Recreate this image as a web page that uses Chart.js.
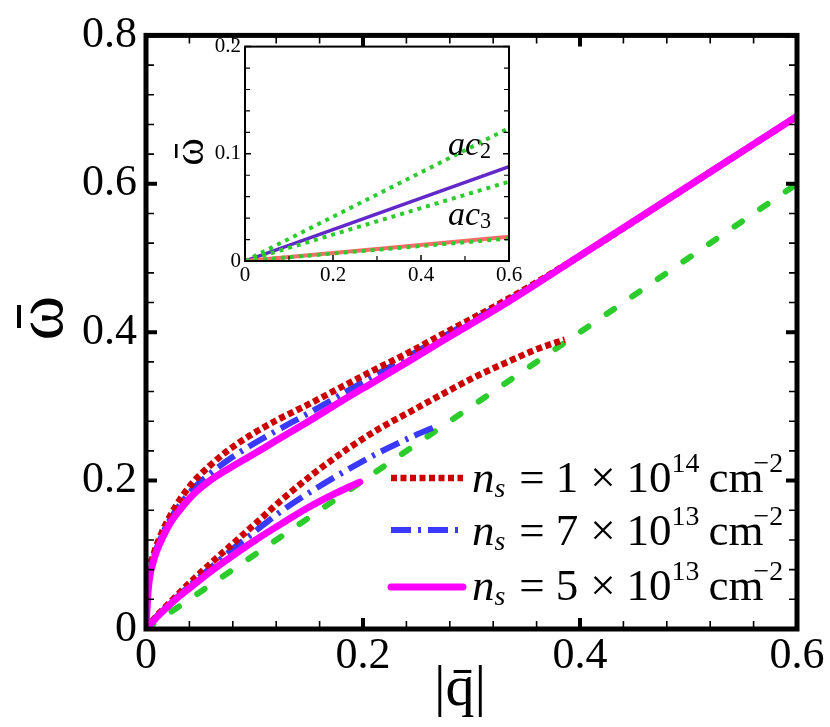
<!DOCTYPE html>
<html><head><meta charset="utf-8">
<script src="https://cdn.jsdelivr.net/npm/chart.js@4.4.0/dist/chart.umd.min.js"></script>
<style>
html,body{margin:0;padding:0;background:#fff;}
#wrap{position:relative;width:830px;height:727px;overflow:hidden;}
#main{position:absolute;left:0;top:0;}
#inset{position:absolute;left:160px;top:30px;}
</style></head><body>
<div id="wrap"><canvas id="main" width="830" height="727"></canvas><canvas id="inset" width="365" height="260"></canvas></div>
<script>
// ---------- data ----------
const xTicks = [0, 0.2, 0.4, 0.6];
const yTicks = [0, 0.2, 0.4, 0.6, 0.8];
const insetXTicks = [0, 0.2, 0.4, 0.6];
const insetYTicks = [0, 0.1, 0.2];

const qGreen = [0, 0.6];
const wGreen = [0, 0.6];

const qUp = [0, 0.002, 0.007, 0.014, 0.022, 0.032, 0.044, 0.058, 0.075, 0.095, 0.12, 0.15, 0.18, 0.21, 0.24, 0.274, 0.335, 0.4, 0.5, 0.6];
const wRedUp  = [0, 0.065, 0.100, 0.128, 0.152, 0.176, 0.199, 0.219, 0.240, 0.260, 0.281, 0.303, 0.326, 0.349, 0.371, 0.398, 0.446, 0.503, 0.597, 0.691];
const wBlueUp = [0, 0.058, 0.096, 0.124, 0.147, 0.169, 0.190, 0.208, 0.227, 0.246, 0.267, 0.291, 0.316, 0.341, 0.366, 0.394, 0.444, 0.503, 0.597, 0.691];
const wMagUp  = [0, 0.052, 0.092, 0.119, 0.142, 0.162, 0.182, 0.199, 0.215, 0.232, 0.254, 0.280, 0.307, 0.333, 0.359, 0.389, 0.442, 0.503, 0.597, 0.691];

const qRedLo = [0, 0.01, 0.025, 0.04, 0.06, 0.08, 0.1, 0.125, 0.155, 0.185, 0.215, 0.245, 0.275, 0.305, 0.335, 0.36, 0.386];
const wRedLo = [0, 0.018, 0.040, 0.062, 0.089, 0.115, 0.141, 0.174, 0.210, 0.242, 0.270, 0.294, 0.318, 0.341, 0.361, 0.377, 0.390];
const qBlueLo = [0, 0.01, 0.025, 0.04, 0.06, 0.08, 0.1, 0.125, 0.155, 0.185, 0.215, 0.245, 0.269];
const wBlueLo = [0, 0.017, 0.038, 0.058, 0.083, 0.108, 0.131, 0.159, 0.188, 0.214, 0.238, 0.259, 0.274];
const qMagLo = [0, 0.01, 0.025, 0.04, 0.06, 0.08, 0.1, 0.125, 0.15, 0.175, 0.197];
const wMagLo = [0, 0.016, 0.037, 0.055, 0.078, 0.099, 0.119, 0.142, 0.164, 0.183, 0.198];

// inset (ac2 / ac3 branches)
const qInset = [0, 0.6];
const wAc2Up = [0, 0.124];
const wAc2 = [0, 0.088];
const wAc2Lo = [0, 0.074];
const wAc3 = [0, 0.0226];
const wAc3G = [0, 0.021];

const legendMantissa = ['1', '7', '5'];
const legendExponent = ['14', '13', '13'];

// ---------- helpers ----------
const SERIF = '"Liberation Serif","Times New Roman",serif';
const pts = (qs, ws) => qs.map((q, i) => ({x: q, y: ws[i]}));

const RED = '#cc0000', BLUE = '#3a3aff', MAG = '#ff00ff', GREEN = '#2ccc2c';
const styles = {
  red:  {borderColor: RED, borderWidth: 6.5, borderDash: [6, 3.5], borderCapStyle: 'butt'},
  blue: {borderColor: BLUE, borderWidth: 6, borderDash: [20, 7, 3, 7], borderCapStyle: 'butt'},
  mag:  {borderColor: MAG, borderWidth: 7, borderDash: [], borderCapStyle: 'round'},
  green:{borderColor: GREEN, borderWidth: 6, borderDash: [9, 22], borderCapStyle: 'round'}
};
function ds(label, data, st, order) {
  return Object.assign({label, data, order, pointRadius: 0, fill: false,
    cubicInterpolationMode: 'monotone', showLine: true}, st);
}

function drawMath(ctx, x, y, parts, size, supScale) {
  const k = supScale || 0.65;
  for (const p of parts) {
    const s = (p.sub || p.sup) ? size * k : size;
    ctx.font = (p.it ? 'italic ' : '') + s + 'px ' + SERIF;
    const dy = p.sub ? size * 0.1 : p.sup ? -size * 0.44 : 0;
    ctx.fillText(p.t, x, y + dy);
    x += ctx.measureText(p.t).width + (p.gap || 0);
  }
  return x;
}

function frameTicks(cfg) {
  return {
    id: 'frameTicks',
    afterDatasetsDraw(chart) {
      const {ctx, chartArea: a, scales: {x, y}} = chart;
      ctx.save();
      ctx.strokeStyle = '#000';
      ctx.lineCap = 'butt';
      const nx = Math.round((x.max - x.min) / cfg.xStep);
      for (let i = 0; i <= nx; i++) {
        const px = x.getPixelForValue(x.min + i * cfg.xStep);
        const major = i % cfg.xMajor === 0;
        const L = major ? cfg.majLen : cfg.minLen;
        ctx.lineWidth = major ? cfg.majW : cfg.minW;
        ctx.beginPath();
        ctx.moveTo(px, a.bottom); ctx.lineTo(px, a.bottom - L);
        if (cfg.top) { ctx.moveTo(px, a.top); ctx.lineTo(px, a.top + L); }
        ctx.stroke();
      }
      const ny = Math.round((y.max - y.min) / cfg.yStep);
      for (let i = 0; i <= ny; i++) {
        const py = y.getPixelForValue(y.min + i * cfg.yStep);
        const major = i % cfg.yMajor === 0;
        const L = major ? cfg.majLen : cfg.minLen;
        ctx.lineWidth = major ? cfg.majW : cfg.minW;
        ctx.beginPath();
        ctx.moveTo(a.left, py); ctx.lineTo(a.left + L, py);
        ctx.moveTo(a.right, py); ctx.lineTo(a.right - L, py);
        ctx.stroke();
      }
      ctx.lineWidth = cfg.frame;
      ctx.strokeRect(a.left, a.top, a.right - a.left, a.bottom - a.top);
      ctx.restore();
    }
  };
}

const fmt = v => (Math.abs(v) < 1e-9 ? '0' : String(+v.toFixed(2)));

// rotated omega with macron (macron drawn as a bar on the "top" side)
function omegaTitle(ctx, bx, cy, size, mx, my, mw, mh) {
  ctx.save();
  ctx.translate(bx, cy);
  ctx.rotate(-Math.PI / 2);
  ctx.font = size + 'px ' + SERIF;
  ctx.textAlign = 'center';
  ctx.textBaseline = 'alphabetic';
  ctx.fillText('ω', 0, 0);
  ctx.restore();
  ctx.fillRect(mx, my, mw, mh);
}

// ---------- main chart ----------
const mainDatasets = [
  ds('ns5 up', pts(qUp, wMagUp), styles.mag, 0),
  ds('ns5 lo', pts(qMagLo, wMagLo), styles.mag, 1),
  ds('ns1 up', pts(qUp, wRedUp), styles.red, 2),
  ds('ns1 lo', pts(qRedLo, wRedLo), styles.red, 3),
  ds('ns7 up', pts(qUp, wBlueUp), styles.blue, 4),
  ds('ns7 lo', pts(qBlueLo, wBlueLo), styles.blue, 5),
  ds('green', pts(qGreen, wGreen), styles.green, 6)
];

const mainDeco = {
  id: 'mainDeco',
  afterDraw(chart) {
    const ctx = chart.ctx;
    ctx.save();
    ctx.fillStyle = '#000';
    omegaTitle(ctx, 62, 318, 68, 17, 305, 4, 23);
    // x title
    ctx.font = '58px ' + SERIF;
    ctx.textAlign = 'center';
    ctx.textBaseline = 'alphabetic';
    ctx.fillText('|q\u0304|', 460, 705);
    // legend
    const rows = [
      {st: styles.red, ly: 478, by: 492},
      {st: styles.blue, ly: 530, by: 545},
      {st: styles.mag, ly: 587, by: 600}
    ];
    rows.forEach((r, i) => {
      ctx.save();
      ctx.strokeStyle = r.st.borderColor;
      ctx.lineWidth = r.st.borderWidth;
      ctx.setLineDash(r.st.borderDash);
      ctx.lineCap = r.st.borderCapStyle;
      ctx.beginPath();
      ctx.moveTo(391, r.ly); ctx.lineTo(463, r.ly);
      ctx.stroke();
      ctx.restore();
      ctx.textAlign = 'left';
      drawMath(ctx, 472, r.by, [
        {t: 'n', it: true},
        {t: 's', it: true, sub: true, gap: 14},
        {t: '=', gap: 11},
        {t: legendMantissa[i], gap: 12},
        {t: '\u00d7', gap: 11},
        {t: '10'},
        {t: legendExponent[i], sup: true, gap: 9},
        {t: 'cm', gap: -10},
        {t: '\u22122', sup: true}
      ], 45, 0.62);
    });
    ctx.restore();
  }
};

new Chart(document.getElementById('main'), {
  type: 'scatter',
  data: {datasets: mainDatasets},
  options: {
    responsive: false, animation: false, devicePixelRatio: 1,
    layout: {padding: {top: 34, right: 33, left: 0, bottom: 0}},
    plugins: {legend: {display: false}, tooltip: {enabled: false}},
    scales: {
      x: {type: 'linear', min: 0, max: 0.6,
        afterBuildTicks: s => { s.ticks = xTicks.map(v => ({value: v})); },
        afterFit: s => { s.height = 98; },
        grid: {display: false, drawTicks: false}, border: {display: false},
        ticks: {padding: 1, color: '#000', font: {family: SERIF, size: 44}, callback: fmt, maxRotation: 0, autoSkip: false}},
      y: {type: 'linear', min: 0, max: 0.8,
        afterBuildTicks: s => { s.ticks = yTicks.map(v => ({value: v})); },
        afterFit: s => { s.width = 146; },
        grid: {display: false, drawTicks: false}, border: {display: false},
        ticks: {padding: 9, color: '#000', font: {family: SERIF, size: 44}, callback: fmt, autoSkip: false}}
    }
  },
  plugins: [frameTicks({xStep: 0.04, xMajor: 5, yStep: 0.04, yMajor: 5, majLen: 11, minLen: 8, majW: 4, minW: 1.6, frame: 5, top: true}), mainDeco]
});

// ---------- inset chart ----------
const gDot = {borderColor: GREEN, borderWidth: 4, borderDash: [4, 5], borderCapStyle: 'butt'};
const insetDatasets = [
  ds('ac3 g', pts(qInset, wAc3G), gDot, 0),
  ds('ac3', pts(qInset, wAc3), {borderColor: '#ff6a6a', borderWidth: 4, borderDash: []}, 1),
  ds('ac2 up', pts(qInset, wAc2Up), gDot, 2),
  ds('ac2 lo', pts(qInset, wAc2Lo), gDot, 3),
  ds('ac2', pts(qInset, wAc2), {borderColor: '#6228c8', borderWidth: 3.5, borderDash: []}, 4)
];

const insetDeco = {
  id: 'insetDeco',
  beforeDraw(chart) {
    const {ctx, chartArea: a} = chart;
    ctx.save();
    ctx.fillStyle = '#fff';
    ctx.fillRect(a.left, a.top, a.right - a.left, a.bottom - a.top);
    ctx.restore();
  },
  afterDraw(chart) {
    const ctx = chart.ctx;
    ctx.save();
    ctx.fillStyle = '#000';
    omegaTitle(ctx, 43, 122, 42, 15, 114, 2.5, 14);
    ctx.textAlign = 'left';
    drawMath(ctx, 288, 125, [{t: 'ac', it: true}, {t: '2', sub: true}], 34);
    drawMath(ctx, 288, 195, [{t: 'ac', it: true}, {t: '3', sub: true}], 34);
    ctx.restore();
  }
};

new Chart(document.getElementById('inset'), {
  type: 'scatter',
  data: {datasets: insetDatasets},
  options: {
    responsive: false, animation: false, devicePixelRatio: 1,
    layout: {padding: {top: 16, right: 16, left: 0, bottom: 0}},
    plugins: {legend: {display: false}, tooltip: {enabled: false}},
    scales: {
      x: {type: 'linear', min: 0, max: 0.6,
        afterBuildTicks: s => { s.ticks = insetXTicks.map(v => ({value: v})); },
        afterFit: s => { s.height = 29; },
        grid: {display: false, drawTicks: false}, border: {display: false},
        ticks: {padding: 2, color: '#000', font: {family: SERIF, size: 21}, callback: fmt, maxRotation: 0, autoSkip: false}},
      y: {type: 'linear', min: 0, max: 0.2,
        afterBuildTicks: s => { s.ticks = insetYTicks.map(v => ({value: v})); },
        afterFit: s => { s.width = 85; },
        grid: {display: false, drawTicks: false}, border: {display: false},
        ticks: {padding: 4, color: '#000', font: {family: SERIF, size: 21}, callback: fmt, autoSkip: false}}
    }
  },
  plugins: [frameTicks({xStep: 0.1, xMajor: 2, yStep: 0.02, yMajor: 5, majLen: 6, minLen: 5, majW: 1.5, minW: 1.2, frame: 2, top: false}), insetDeco]
});
</script>
</body></html>
